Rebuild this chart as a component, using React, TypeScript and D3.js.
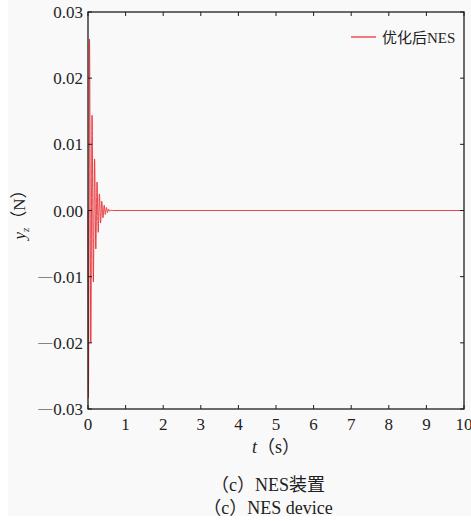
import React from "react";
import * as d3 from "d3";

// Time (s) of each turning point of the response, and the force y_z (N) there
const timePoints = [
  0, 0.012, 0.04, 0.075, 0.108, 0.142, 0.175, 0.208, 0.24, 0.272, 0.303,
  0.335, 0.366, 0.398, 0.43, 0.46, 0.49, 0.52, 0.55, 0.58, 0.61, 0.65, 10,
];
const forceValues = [
  0, -0.0283, 0.0259, -0.02, 0.0144, -0.0108, 0.0078, -0.0058, 0.0043,
  -0.0033, 0.0025, -0.0019, 0.0014, -0.0011, 0.0008, -0.0006, 0.00045,
  -0.0003, 0.0002, -0.0001, 0.00005, 0, 0,
];

const xTicks = [0, 1, 2, 3, 4, 5, 6, 7, 8, 9, 10];
const yTicks = [-0.03, -0.02, -0.01, 0, 0.01, 0.02, 0.03];
const legendLabel = "优化后NES";
const captionCn = "（c）NES装置";
const captionEn = "（c）NES device";

const W = 471;
const H = 521;
const plot = { left: 88, right: 464, top: 12, bottom: 409 };
const SERIF = "Liberation Serif, DejaVu Serif, serif";
const CJK = "Liberation Serif, Noto Sans CJK SC, serif";
const RED = "#e8262a";
const INK = "#1e1e1e";

export default function App() {
  const x = d3.scaleLinear().domain([0, 10]).range([plot.left, plot.right]);
  const y = d3.scaleLinear().domain([-0.03, 0.03]).range([plot.bottom, plot.top]);

  const data = timePoints.map((t, i) => [t, forceValues[i]] as [number, number]);
  const line = d3
    .line<[number, number]>()
    .x((d) => x(d[0]))
    .y((d) => y(d[1]))
    .curve(d3.curveMonotoneX);

  const tickLen = 4;

  return (
    <svg
      width={W}
      height={H}
      style={{ position: "absolute", left: 0, top: 0, background: "#ffffff", fontFamily: SERIF }}
    >
      <rect x={8} y={0} width={W - 8} height={516} fill="#f9f9f9" />

      {/* response curve */}
      <path
        d={line(data) ?? ""}
        fill="none"
        stroke={RED}
        strokeWidth={1}
        strokeOpacity={0.85}
        strokeLinejoin="round"
      />

      {/* frame */}
      <rect
        x={plot.left}
        y={plot.top}
        width={plot.right - plot.left}
        height={plot.bottom - plot.top}
        fill="none"
        stroke={INK}
        strokeWidth={1.3}
      />

      {/* x ticks, inward on bottom and top */}
      {xTicks.map((t) => (
        <g key={"x" + t}>
          <line x1={x(t)} x2={x(t)} y1={plot.bottom} y2={plot.bottom - tickLen} stroke={INK} strokeWidth={1} />
          <line x1={x(t)} x2={x(t)} y1={plot.top} y2={plot.top + tickLen} stroke={INK} strokeWidth={1} />
          <text x={x(t)} y={plot.bottom + 21} textAnchor="middle" fontSize={17} fill={INK}>
            {t}
          </text>
        </g>
      ))}

      {/* y ticks, inward on left and right */}
      {yTicks.map((v) => (
        <g key={"y" + v}>
          <line x1={plot.left} x2={plot.left + tickLen} y1={y(v)} y2={y(v)} stroke={INK} strokeWidth={1} />
          <line x1={plot.right} x2={plot.right - tickLen} y1={y(v)} y2={y(v)} stroke={INK} strokeWidth={1} />
          <text x={plot.left - 5} y={y(v) + 6} textAnchor="end" fontSize={17} fill={INK}>
            {v < 0 && (
              <tspan fontSize={14} dy={-2}>
                —
              </tspan>
            )}
            <tspan dx={v < 0 ? 1 : 0} dy={v < 0 ? 2 : 0}>
              {Math.abs(v).toFixed(2)}
            </tspan>
          </text>
        </g>
      ))}

      {/* axis titles */}
      <text
        transform={`translate(25, ${(plot.top + plot.bottom) / 2}) rotate(-90)`}
        textAnchor="middle"
        fontSize={17}
        fill={INK}
      >
        <tspan fontStyle="italic">y</tspan>
        <tspan fontStyle="italic" fontSize={11} dy={4}>z</tspan>
        <tspan dy={-4} style={{ fontFamily: CJK }}>（N）</tspan>
      </text>
      <text x={276} y={453} textAnchor="middle" fontSize={18} fill={INK}>
        <tspan fontStyle="italic">t</tspan>
        <tspan style={{ fontFamily: CJK }}>（s）</tspan>
      </text>

      {/* legend */}
      <line x1={351} x2={376} y1={37} y2={37} stroke={RED} strokeWidth={1.2} />
      <text x={382} y={43} fontSize={15} fill={INK} style={{ fontFamily: CJK }}>
        {legendLabel}
      </text>

      {/* captions */}
      <text x={268} y={491} textAnchor="middle" fontSize={18} fill={INK} style={{ fontFamily: CJK }}>
        {captionCn}
      </text>
      <text x={268} y={514} textAnchor="middle" fontSize={18} fill={INK} style={{ fontFamily: CJK }}>
        {captionEn}
      </text>
    </svg>
  );
}
